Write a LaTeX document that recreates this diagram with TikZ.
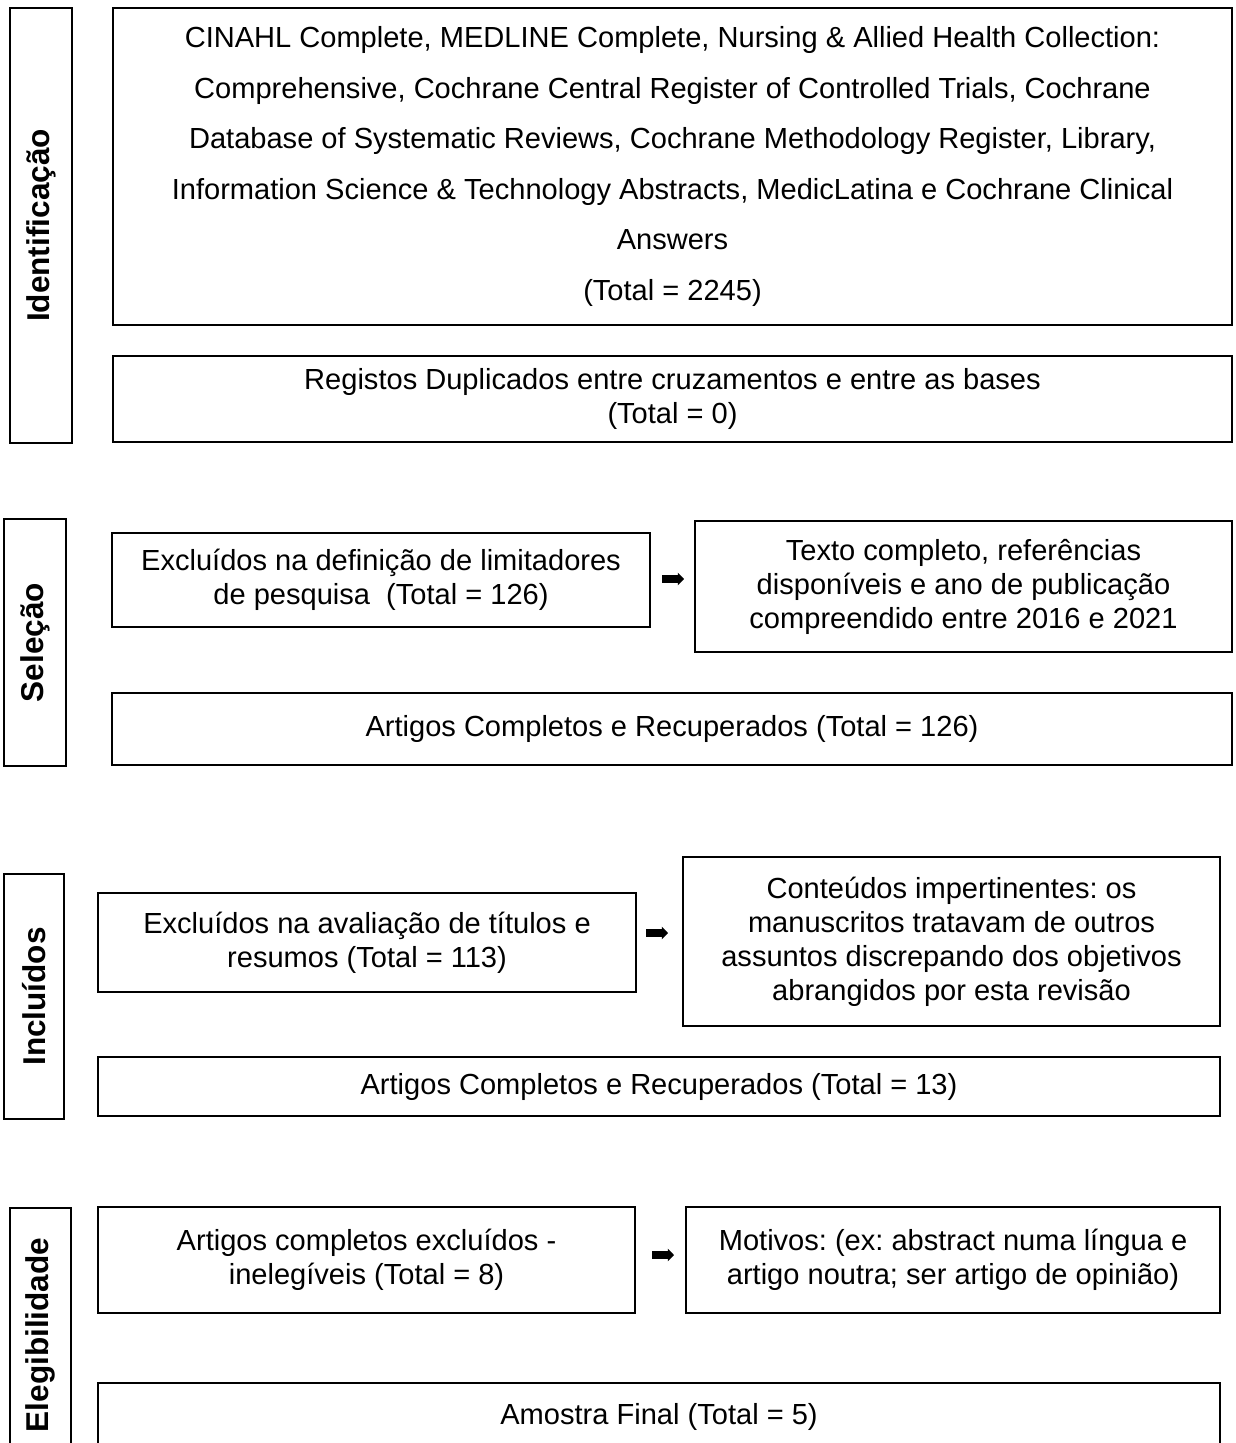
\documentclass[tikz,border=0pt]{standalone}
\usepackage{fontspec}
\setmainfont{Liberation Sans}
\usetikzlibrary{arrows.meta}
\newlength\pxu
\setlength\pxu{0.4818pt}
\frenchspacing

\begin{document}
\begin{tikzpicture}[
  x=\pxu, y=-\pxu,
  box/.style={draw, line width=1pt, align=center, inner sep=0pt, font=\fontsize{14}{16.4}\selectfont},
  stage/.style={draw, line width=1.1pt, rotate=90, inner sep=0pt, font=\fontsize{15.2}{17}\selectfont\bfseries},
  arrow/.style={-{Triangle[length=3pt, width=6pt]}, line width=3.4pt},
]
\useasboundingbox (0,0) rectangle (1235,1443);
\clip (0,0) rectangle (1235,1443);

% Stages (left column)
\node[stage, minimum width=435\pxu, minimum height=62\pxu] (ident) at (41,225.5) {Identificação};
\node[stage, minimum width=247\pxu, minimum height=62\pxu] (selec) at (35,642.5) {Seleção};
\node[stage, minimum width=245\pxu, minimum height=60\pxu] (inclu) at (34,996.5) {Incluídos};
\node[stage, minimum width=254\pxu, minimum height=61\pxu] (elegi) at (40.5,1335) {Elegibilidade};

% Identification
\node[box, minimum width=1119\pxu, minimum height=317\pxu, font=\fontsize{14}{24.4}\selectfont] (bases) at (672.5,166.5)
  {CINAHL Complete, MEDLINE Complete, Nursing \& Allied Health Collection:\\
   Comprehensive, Cochrane Central Register of Controlled Trials, Cochrane\\
   Database of Systematic Reviews, Cochrane Methodology Register, Library,\\
   Information Science \& Technology Abstracts, MedicLatina e Cochrane Clinical\\
   Answers\\(Total = 2245)};
\node[box, minimum width=1119\pxu, minimum height=86\pxu] (dupl) at (672.5,399)
  {Registos Duplicados entre cruzamentos e entre as bases\\(Total = 0)};

% Selection
\node[box, minimum width=538\pxu, minimum height=94\pxu] (exclim) at (381,580)
  {Excluídos na definição de limitadores\\de pesquisa\ \ (Total = 126)};
\node[box, minimum width=537\pxu, minimum height=131\pxu] (textocomp) at (963.5,586.5)
  {Texto completo, referências\\disponíveis e ano de publicação\\compreendido entre 2016 e 2021};
\node[box, minimum width=1120\pxu, minimum height=72\pxu] (recup) at (672,729)
  {Artigos Completos e Recuperados (Total = 126)};

% Included
\node[box, minimum width=538\pxu, minimum height=99\pxu] (exclres) at (367,942.5)
  {Excluídos na avaliação de títulos e\\resumos (Total = 113)};
\node[box, minimum width=537\pxu, minimum height=169\pxu] (impert) at (951.5,941.5)
  {Conteúdos impertinentes: os\\manuscritos tratavam de outros\\assuntos discrepando dos objetivos\\abrangidos por esta revisão};
\node[box, minimum width=1122\pxu, minimum height=59\pxu] (recupb) at (659,1086.5)
  {Artigos Completos e Recuperados (Total = 13)};

% Eligibility
\node[box, minimum width=537\pxu, minimum height=106\pxu] (inelig) at (366.5,1260)
  {Artigos completos excluídos -\\inelegíveis (Total = 8)};
\node[box, minimum width=534\pxu, minimum height=106\pxu] (motivos) at (953,1260)
  {Motivos: (ex: abstract numa língua e\\artigo noutra; ser artigo de opinião)};
\node[box, minimum width=1122\pxu, minimum height=68\pxu] (amostra) at (659,1417)
  {Amostra Final (Total = 5)};

% Arrows between the boxes
\coordinate (arrAs) at (662,579);
\coordinate (arrAe) at (684,579);
\coordinate (arrBs) at (646,933);
\coordinate (arrBe) at (668,933);
\coordinate (arrCs) at (652,1255);
\coordinate (arrCe) at (674,1255);
\draw[arrow] (arrAs) -- (arrAe);
\draw[arrow] (arrBs) -- (arrBe);
\draw[arrow] (arrCs) -- (arrCe);

\end{tikzpicture}
\end{document}
